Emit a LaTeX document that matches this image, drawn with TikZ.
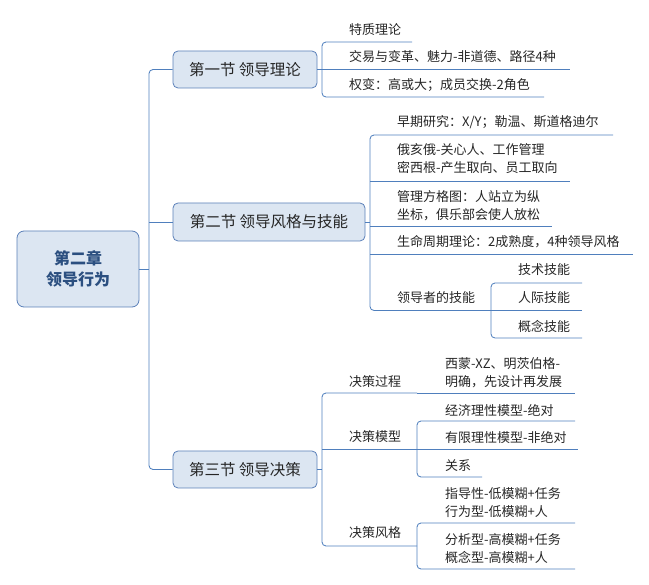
\documentclass[tikz,border=0pt]{standalone}
\usepackage{fontspec}
\setmainfont{Noto Sans CJK SC}
\newfontfamily\cjkfont{Noto Sans CJK SC}
\definecolor{ln}{HTML}{4F7FBD}
\definecolor{boxfill}{HTML}{DCE6F2}
\definecolor{boxdraw}{HTML}{5B80B9}
\definecolor{txt}{HTML}{262626}
\definecolor{roottxt}{HTML}{2B4F80}
\tikzset{
  leaf/.style={anchor=west, inner sep=0pt, text=txt, align=left, font=\cjkfont\fontsize{13}{18}\selectfont},
  secbox/.style={draw=boxdraw, fill=boxfill, rounded corners=5pt, line width=0.8pt, inner sep=0pt, text=txt, font=\cjkfont\fontsize{15.5}{18}\selectfont},
  rootbox/.style={draw=boxdraw, fill=boxfill, rounded corners=7pt, line width=0.8pt, inner sep=0pt, text=roottxt, align=center, font=\cjkfont\bfseries\fontsize{16}{21}\selectfont},
  conn/.style={draw=ln, line width=0.85pt},
  brk/.style={conn, rounded corners=4pt}
}
\begin{document}
\begin{tikzpicture}[x=1pt,y=-1pt]
\useasboundingbox (0,0) rectangle (649,585);
% root and sections
\node[rootbox, minimum width=122pt, minimum height=76pt] (root) at (78,269) {第二章\\领导行为};
\node[secbox, minimum width=144pt, minimum height=37pt] (s1) at (245,69.5) {第一节 领导理论};
\node[secbox, minimum width=192pt, minimum height=38pt] (s2) at (269,222) {第二节 领导风格与技能};
\node[secbox, minimum width=144pt, minimum height=37pt] (s3) at (245,469.5) {第三节 领导决策};
% trunk
\coordinate (t) at (149,269);
\draw[conn] (root.east) -- (t);
\draw[brk] (s1.west) -- (s1.west -| t) -- (s3.west -| t) -- (s3.west);
\draw[conn] (s2.west -| t) -- (s2.west);

% ---------- section 1 ----------
\coordinate (b1) at (322,69.5);
\node[leaf] (a1) at (349,30) {特质理论};
\node[leaf] (a2) at (349,57) {交易与变革、魅力-非道德、路径4种};
\node[leaf] (a3) at (349,85) {权变：高或大；成员交换-2角色};
\coordinate (ua1) at (412,42);
\coordinate (ua2) at (570,69.5);
\coordinate (ua3) at (544,97);
\draw[conn] (s1.east) -- (b1);
\draw[brk] (ua1) -- (ua1 -| b1) -- (ua3 -| b1) -- (ua3);
\draw[conn] (b1 |- ua2) -- (ua2);

% ---------- section 2 ----------
\coordinate (b2) at (370,222);
\node[leaf] (m1) at (397,122) {早期研究：X/Y；勒温、斯道格迪尔};
\node[leaf] (m2) at (397,159) {俄亥俄-关心人、工作管理\\密西根-产生取向、员工取向};
\node[leaf] (m3) at (397,205.5) {管理方格图：人站立为纵\\坐标，俱乐部会使人放松};
\node[leaf] (m4) at (397,242) {生命周期理论：2成熟度，4种领导风格};
\node[leaf] (m5) at (397,298) {领导者的技能};
\coordinate (um1) at (613,135);
\coordinate (um2) at (570,181);
\coordinate (um3) at (552,226);
\coordinate (um4) at (633,254);
\coordinate (um5) at (491,310.5);
\draw[conn] (s2.east) -- (b2);
\draw[brk] (um1) -- (um1 -| b2) -- (um5 -| b2) -- (um5);
\draw[conn] (b2 |- um2) -- (um2);
\draw[conn] (b2 |- um3) -- (um3);
\draw[conn] (b2 |- um4) -- (um4);
% skills
\node[leaf] (k1) at (518,270) {技术技能};
\node[leaf] (k2) at (518,298) {人际技能};
\node[leaf] (k3) at (518,326) {概念技能};
\coordinate (uk1) at (582,283);
\coordinate (uk2) at (582,310.5);
\coordinate (uk3) at (582,338);
\draw[brk] (uk1) -- (uk1 -| um5) -- (uk3 -| um5) -- (uk3);
\draw[conn] (um5) -- (uk2);

% ---------- section 3 ----------
\coordinate (b3) at (322,469.5);
\node[leaf] (d1) at (349,382) {决策过程};
\node[leaf] (d2) at (349,437) {决策模型};
\node[leaf] (d3) at (349,533) {决策风格};
\coordinate (ud1) at (417,393);
\coordinate (ud2) at (417,449);
\coordinate (ud3) at (417,546);
\draw[conn] (s3.east) -- (b3);
\draw[brk] (ud1) -- (ud1 -| b3) -- (ud3 -| b3) -- (ud3);
\draw[conn] (b3 |- ud2) -- (ud2);
% process
\node[leaf] (p1) at (445,373) {西蒙-XZ、明茨伯格-\\明确，先设计再发展};
\coordinate (up1) at (575,393);
\draw[conn] (ud1) -- (up1);
% models
\node[leaf] (e1) at (445,410) {经济理性模型-绝对};
\node[leaf] (e2) at (445,437) {有限理性模型-非绝对};
\node[leaf] (e3) at (445,466) {关系};
\coordinate (ue1) at (575,421);
\coordinate (ue2) at (578,449);
\coordinate (ue3) at (482,477);
\draw[brk] (ue1) -- (ue1 -| ud2) -- (ue3 -| ud2) -- (ue3);
\draw[conn] (ud2) -- (ue2);
% styles
\node[leaf] (f1) at (445,503) {指导性-低模糊+任务\\行为型-低模糊+人};
\node[leaf] (f2) at (445,549) {分析型-高模糊+任务\\概念型-高模糊+人};
\coordinate (uf1) at (575,523);
\coordinate (uf2) at (575,569);
\draw[brk] (uf1) -- (uf1 -| ud3) -- (uf2 -| ud3) -- (uf2);
\end{tikzpicture}
\end{document}
